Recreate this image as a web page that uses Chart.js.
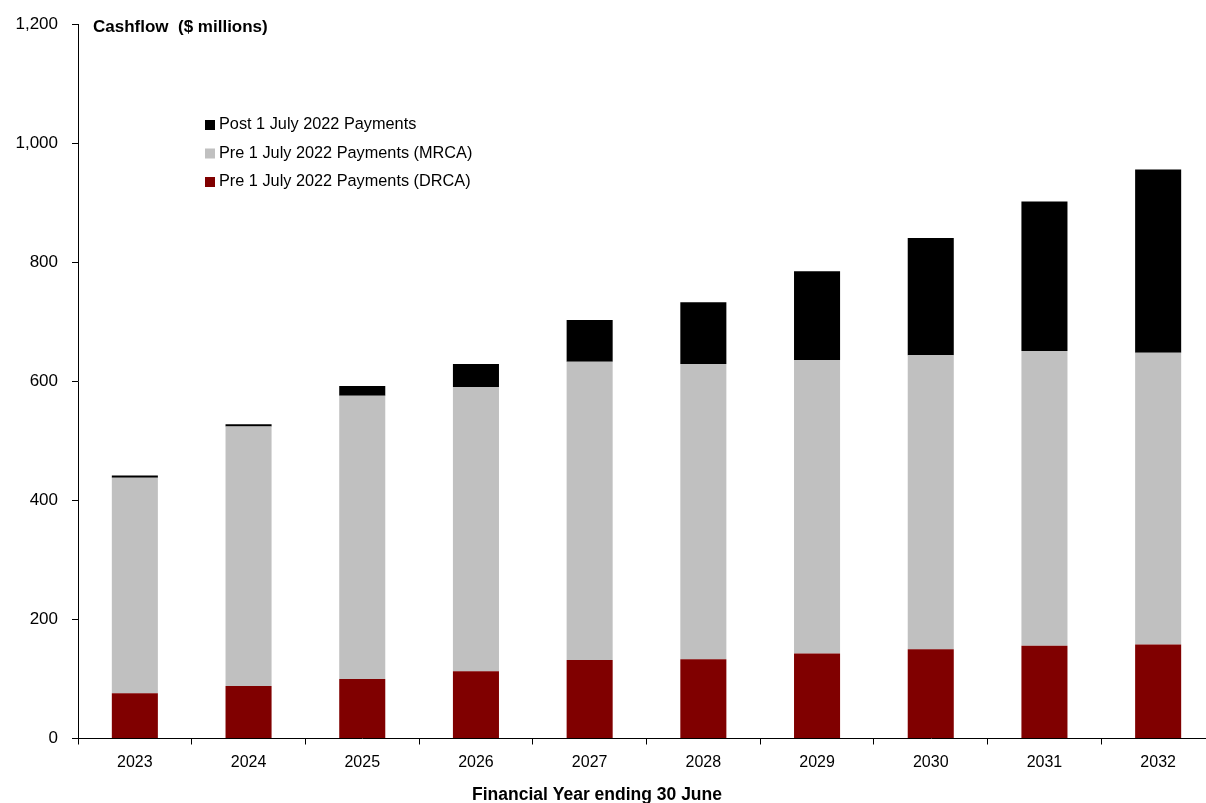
<!DOCTYPE html>
<html>
<head>
<meta charset="utf-8">
<title>Cashflow ($ millions)</title>
<script src="https://cdn.jsdelivr.net/npm/chart.js@4.4.1/dist/chart.umd.min.js"></script>
<style>
  html, body { margin: 0; padding: 0; background: #fff; overflow: hidden; }
  #wrap { width: 1215px; height: 803px; }
</style>
</head>
<body>
<div id="wrap"><canvas id="chartCashflow"></canvas></div>
<script>
// financial years ending 30 June
const years = ['2023', '2024', '2025', '2026', '2027', '2028', '2029', '2030', '2031', '2032'];

// $ millions per year
const drca = [76, 88, 100, 113, 132, 133, 143, 150, 156, 158];
const mrca = [362, 436, 476, 477, 501, 496, 493, 494, 495, 490];
const post = [4, 4, 16, 39, 70, 104, 149, 197, 251, 308];

const yTicks = [0, 200, 400, 600, 800, 1000, 1200];

const FONT = '"Liberation Sans", Arial, sans-serif';

// legend drawn inside the plot, top entry first
const leyenda = {
  id: 'leyenda',
  afterDraw(chart) {
    const ctx = chart.ctx;
    const items = chart.data.datasets.slice().reverse();
    ctx.save();
    ctx.font = '16.3px ' + FONT;
    ctx.textBaseline = 'middle';
    items.forEach((ds, i) => {
      const y = 125 + i * 28.5;
      ctx.fillStyle = ds.backgroundColor;
      ctx.fillRect(205, y - 5, 10, 10);
      ctx.fillStyle = '#000';
      ctx.fillText(ds.label, 219, y);
    });
    ctx.restore();
  }
};

// axis titles
const titulos = {
  id: 'titulos',
  afterDraw(chart) {
    const ctx = chart.ctx;
    ctx.save();
    ctx.fillStyle = '#000';
    ctx.font = 'bold 17px ' + FONT;
    ctx.textBaseline = 'middle';
    ctx.textAlign = 'left';
    ctx.fillText('Cashflow  ($ millions)', 93, 27);
    ctx.font = 'bold 17.5px ' + FONT;
    ctx.textAlign = 'center';
    ctx.fillText('Financial Year ending 30 June', 597, 795);
    ctx.restore();
  }
};

const ctx = document.getElementById('chartCashflow').getContext('2d');
window.chartCashflow = new Chart(ctx, {
  type: 'bar',
  data: {
    labels: years,
    datasets: [
      { label: 'Pre 1 July 2022 Payments (DRCA)', data: drca, backgroundColor: '#800000' },
      { label: 'Pre 1 July 2022 Payments (MRCA)', data: mrca, backgroundColor: '#C0C0C0' },
      { label: 'Post 1 July 2022 Payments', data: post, backgroundColor: '#000000' }
    ]
  },
  options: {
    responsive: true,
    maintainAspectRatio: false,
    animation: false,
    devicePixelRatio: 1,
    layout: { padding: { top: 22, right: 0, bottom: 0, left: 0 } },
    datasets: { bar: { categoryPercentage: 1, barPercentage: 0.405 } },
    plugins: {
      legend: { display: false },
      tooltip: { enabled: false }
    },
    scales: {
      x: {
        stacked: true,
        grid: { display: true, drawOnChartArea: false, offset: true, tickLength: 6, color: '#000' },
        border: { color: '#000', width: 1 },
        ticks: { color: '#000', font: { family: FONT, size: 16 }, padding: 8 },
        afterFit(scale) { scale.height = 64.5; }
      },
      y: {
        stacked: true,
        min: 0,
        max: 1200,
        afterBuildTicks(scale) { scale.ticks = yTicks.map(v => ({ value: v })); },
        grid: { display: true, drawOnChartArea: false, tickLength: 6, color: '#000' },
        border: { color: '#000', width: 1 },
        ticks: {
          color: '#000',
          font: { family: FONT, size: 17 },
          padding: 14,
          callback: v => v.toLocaleString('en-US')
        },
        afterFit(scale) { scale.width = 78; }
      }
    }
  },
  plugins: [leyenda, titulos]
});
</script>
</body>
</html>
